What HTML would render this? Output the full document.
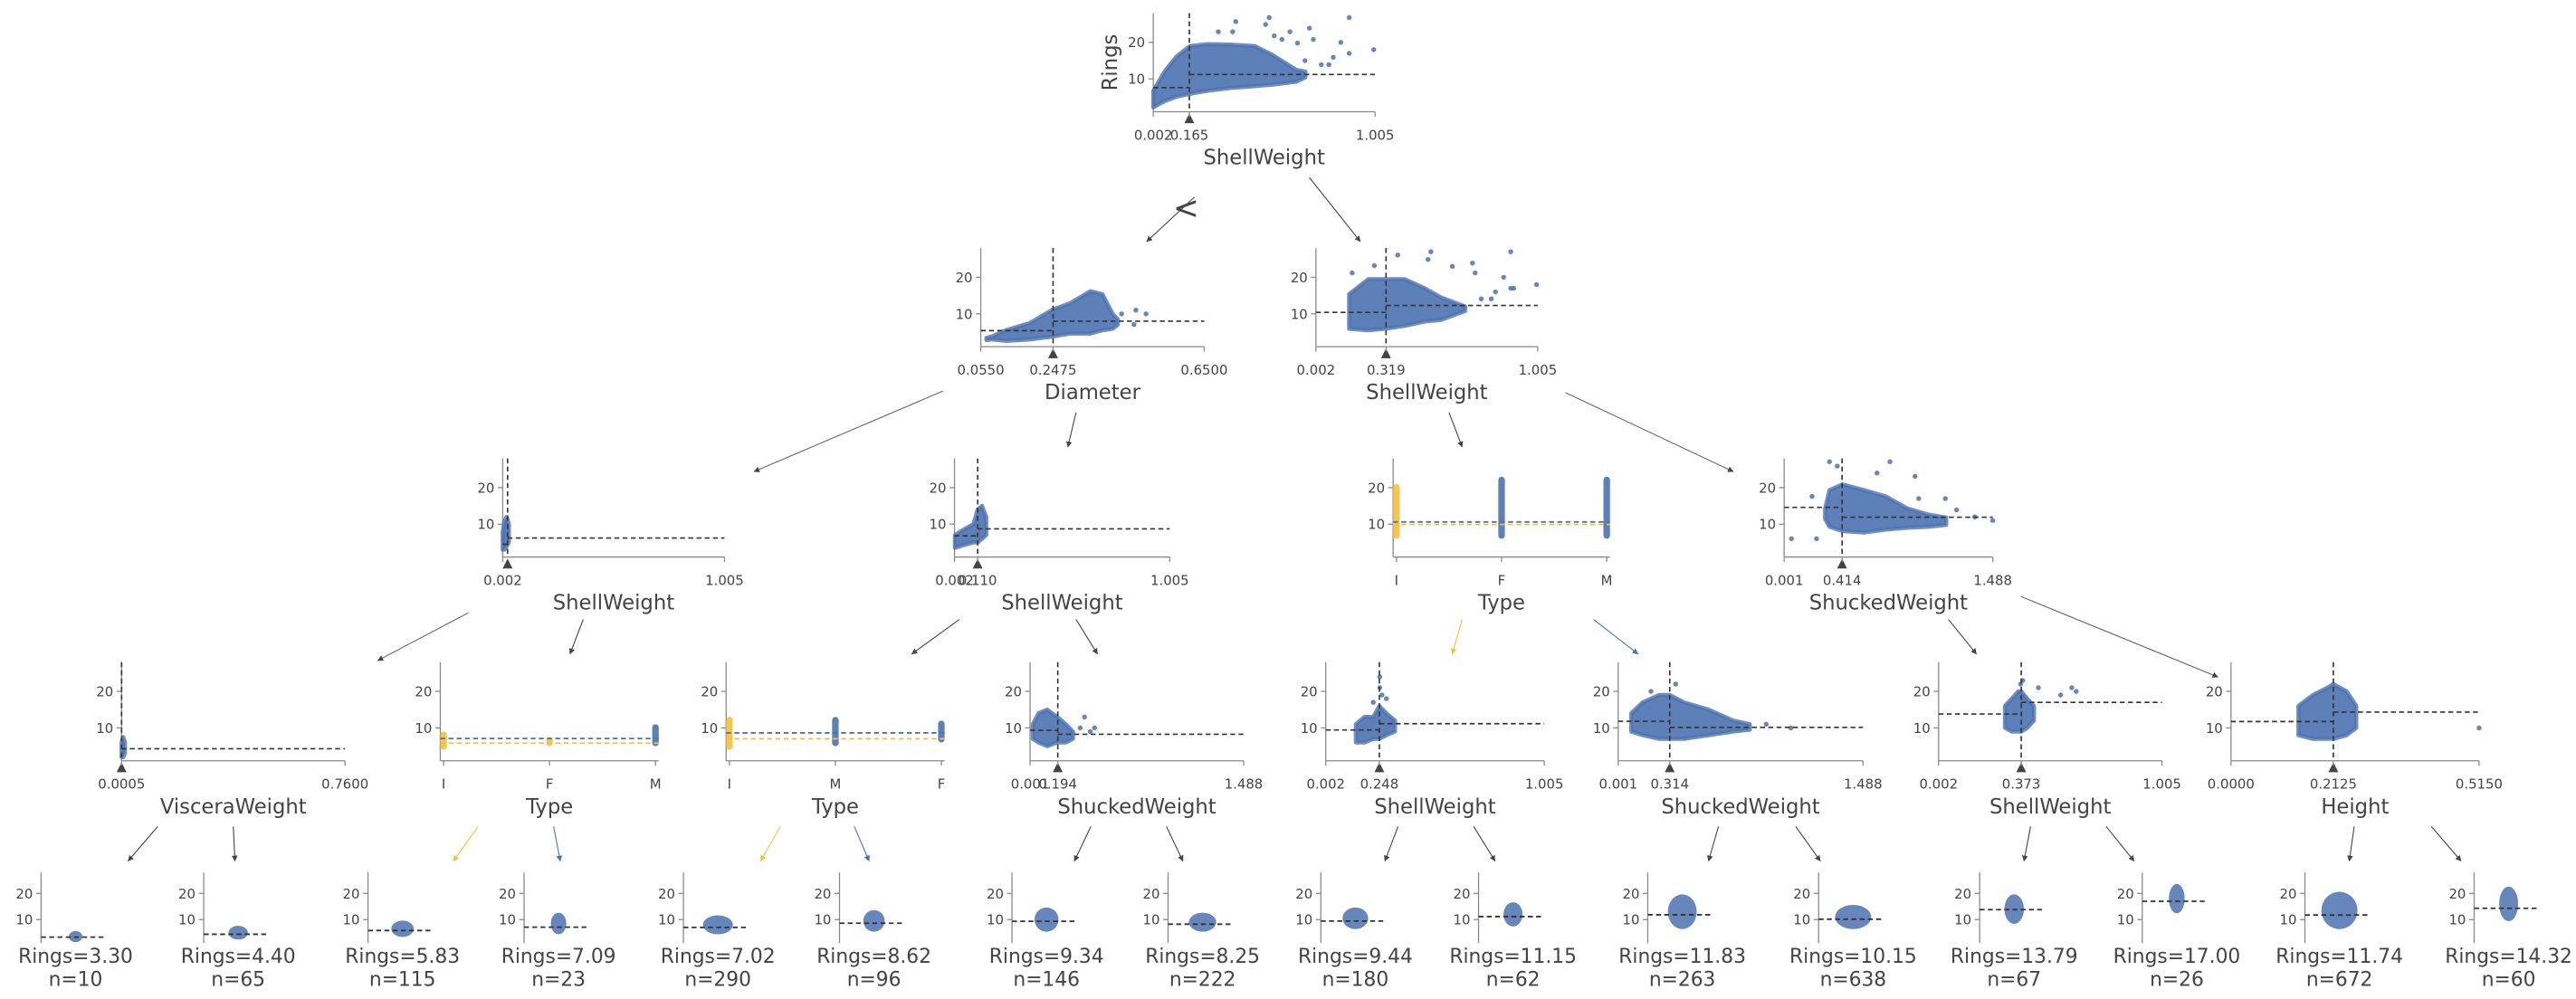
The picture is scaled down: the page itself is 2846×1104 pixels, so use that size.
<!DOCTYPE html>
<html><head><meta charset="utf-8"><style>
html,body{margin:0;padding:0;background:#fff;}
svg{display:block;font-family:"DejaVu Sans","Liberation Sans",sans-serif;}
</style></head><body>
<svg id="chart" xmlns="http://www.w3.org/2000/svg" width="2846" height="1104" viewBox="0 0 1568 608" preserveAspectRatio="none">
<defs>
<marker id="ah" viewBox="0 0 10 10" refX="9" refY="5" markerWidth="6" markerHeight="6" orient="auto"><path d="M0,0 L10,5 L0,10 z" fill="#444"/></marker>
<marker id="ahy" viewBox="0 0 10 10" refX="9" refY="5" markerWidth="6" markerHeight="6" orient="auto"><path d="M0,0 L10,5 L0,10 z" fill="#f4c13b"/></marker>
<marker id="ahb" viewBox="0 0 10 10" refX="9" refY="5" markerWidth="6" markerHeight="6" orient="auto"><path d="M0,0 L10,5 L0,10 z" fill="#4c72b0"/></marker>
</defs>
<g id="edges" stroke-width="0.6" fill="none">
<line x1="727" y1="120" x2="698" y2="147" stroke="#444" marker-end="url(#ah)"/>
<text x="722" y="133" font-size="19" fill="#444" stroke="none" text-anchor="middle">&lt;</text>
<line x1="797" y1="108" x2="828" y2="147" stroke="#444" marker-end="url(#ah)"/>
<line x1="574" y1="238" x2="459" y2="287" stroke="#666" marker-end="url(#ah)"/>
<line x1="655" y1="251" x2="650" y2="272" stroke="#444" marker-end="url(#ah)"/>
<line x1="882" y1="251" x2="890" y2="272" stroke="#444" marker-end="url(#ah)"/>
<line x1="953" y1="239" x2="1055" y2="287" stroke="#666" marker-end="url(#ah)"/>
<line x1="285" y1="373" x2="230" y2="402" stroke="#666" marker-end="url(#ah)"/>
<line x1="355" y1="377" x2="347" y2="398" stroke="#444" marker-end="url(#ah)"/>
<line x1="584" y1="377" x2="555" y2="398" stroke="#444" marker-end="url(#ah)"/>
<line x1="655" y1="377" x2="668" y2="398" stroke="#444" marker-end="url(#ah)"/>
<line x1="890" y1="377" x2="884" y2="398" stroke="#f4c13b" marker-end="url(#ahy)"/>
<line x1="970" y1="377" x2="997" y2="398" stroke="#4c72b0" marker-end="url(#ahb)"/>
<line x1="1186" y1="377" x2="1203" y2="398" stroke="#444" marker-end="url(#ah)"/>
<line x1="1230" y1="363" x2="1350" y2="412" stroke="#666" marker-end="url(#ah)"/>
<line x1="96" y1="503" x2="78" y2="524" stroke="#444" marker-end="url(#ah)"/>
<line x1="142" y1="503" x2="143" y2="524" stroke="#444" marker-end="url(#ah)"/>
<line x1="291" y1="503" x2="276" y2="524" stroke="#f4c13b" marker-end="url(#ahy)"/>
<line x1="337" y1="503" x2="341" y2="524" stroke="#4c72b0" marker-end="url(#ahb)"/>
<line x1="475" y1="503" x2="463" y2="524" stroke="#f4c13b" marker-end="url(#ahy)"/>
<line x1="520" y1="503" x2="529" y2="524" stroke="#4c72b0" marker-end="url(#ahb)"/>
<line x1="664" y1="503" x2="654" y2="524" stroke="#444" marker-end="url(#ah)"/>
<line x1="710" y1="503" x2="720" y2="524" stroke="#444" marker-end="url(#ah)"/>
<line x1="851" y1="503" x2="843" y2="524" stroke="#444" marker-end="url(#ah)"/>
<line x1="897" y1="503" x2="910" y2="524" stroke="#444" marker-end="url(#ah)"/>
<line x1="1046" y1="503" x2="1040" y2="524" stroke="#444" marker-end="url(#ah)"/>
<line x1="1093" y1="503" x2="1108" y2="524" stroke="#444" marker-end="url(#ah)"/>
<line x1="1236" y1="503" x2="1232" y2="524" stroke="#444" marker-end="url(#ah)"/>
<line x1="1282" y1="503" x2="1299" y2="524" stroke="#444" marker-end="url(#ah)"/>
<line x1="1433" y1="503" x2="1430" y2="524" stroke="#444" marker-end="url(#ah)"/>
<line x1="1480" y1="503" x2="1498" y2="524" stroke="#444" marker-end="url(#ah)"/>
</g>
<g id="nodes"></g>
</svg>
<script>
// ---------- data ----------
const rootBinX=[0.002,0.053,0.107,0.168,0.242,0.35,0.46,0.54,0.647,0.69];
const rootLo=[2.2,3.9,5.1,5.9,6.7,7.5,8,8.4,9.2,10.4];
const rootHi=[6.7,12,16.1,19,19.5,19.4,19,16.6,12.5,12];
const rootOutX=[0.375,0.526,0.51,0.708,0.726,0.85,0.888,0.888,0.999,0.816,0.762,0.796,0.688,0.62,0.549,0.584,0.654,0.296,0.361];
const rootOutY=[25.7,26.8,24.9,23.9,20.8,20,26.8,17,18,15.9,13.9,13.9,15,22.9,21.8,20.8,19.8,22.9,22.9];
const rootMeans=[7.6,11.2];
const rootTicks=[0.002,0.165,1.005];
const rootTickLabels=['0.002','0.165','1.005'];

const n1aBinX=[0.07,0.084,0.122,0.186,0.247,0.293,0.347,0.379,0.406,0.42];
const n1aLo=[2.8,3,2.6,3,3.8,4.6,4.6,5.5,5.9,7];
const n1aHi=[3.4,3.8,5.5,7.5,11.2,12.9,16.2,15.4,10,8.5];
const n1aOutX=[0.468,0.495,0.463,0.43];
const n1aOutY=[11,10,7.1,10];
const n1aMeans=[5.4,8.0];
const n1aTicks=[0.055,0.2475,0.65];
const n1aTickLabels=['0.0550','0.2475','0.6500'];

const n1bBinX=[0.152,0.239,0.312,0.403,0.494,0.567,0.677];
const n1bLo=[5.9,5.5,5.9,6.7,7.9,8.3,10.8];
const n1bHi=[15.4,19.5,19.5,19.5,17,14.5,12];
const n1bOutX=[0.372,0.522,0.883,0.509,0.71,0.619,0.851,0.883,0.896,1.0,0.814,0.75,0.795,0.722,0.166,0.266];
const n1bOutY=[26.1,27,27,24.9,23.9,23,20,17,17,18,16,14.1,14.1,21.2,21.2,23.2];
const n1bMeans=[10.4,12.3];
const n1bTicks=[0.002,0.319,1.005];
const n1bTickLabels=['0.002','0.319','1.005'];

const n2aBinX=[0.002,0.01,0.02,0.03];
const n2aLo=[3,3,4,5];
const n2aHi=[8,11,12,10];
const n2aOutX=[];
const n2aOutY=[];
const n2aMeans=[4.5,6.2];
const n2aTicks=[0.002,1.005];
const n2aTickLabels=['0.002','1.005'];

const n2bBinX=[0.004,0.03,0.06,0.09,0.11,0.13,0.15];
const n2bLo=[3.5,4,4.5,5,5,6,7];
const n2bHi=[7,8,9,10,14,15,12];
const n2bOutX=[];
const n2bOutY=[];
const n2bMeans=[6.8,8.7];
const n2bTicks=[0.002,0.110,1.005];
const n2bTickLabels=['0.002','0.110','1.005'];

const n2dBinX=[0.293,0.324,0.417,0.571,0.725,0.879,1.033,1.156];
const n2dLo=[11.4,9.3,8.1,7.7,8.5,9,9.3,9.8];
const n2dHi=[14.3,19.3,20.9,19.3,17.6,14.3,12.6,11.8];
const n2dOutX=[0.053,0.232,0.324,0.755,0.663,0.934,1.15,1.36,1.488,1.23,0.2,0.38,0.96];
const n2dOutY=[6,6,27.1,27.1,24,23.1,17,12,11,13.9,17.6,25.9,17];
const n2dMeans=[14.6,11.9];
const n2dTicks=[0.001,0.414,1.488];
const n2dTickLabels=['0.001','0.414','1.488'];

const n31BinX=[0.0005,0.006,0.012];
const n31Lo=[2,2,3];
const n31Hi=[6,7.5,6];
const n31OutX=[];
const n31OutY=[];
const n31Means=[null,4.3];
const n31Ticks=[0.0005,0.76];
const n31TickLabels=['0.0005','0.7600'];

const n34BinX=[0.02,0.06,0.12,0.19,0.25,0.3];
const n34Lo=[7,6,5,6,6,7];
const n34Hi=[11,14,15,13,11,9];
const n34OutX=[0.35,0.42,0.45,0.38];
const n34OutY=[10,9,10,13];
const n34Means=[9.34,8.25];
const n34Ticks=[0.001,0.194,1.488];
const n34TickLabels=['0.001','0.194','1.488'];

const n35BinX=[0.14,0.18,0.22,0.248,0.28,0.32];
const n35Lo=[6,6,7,7,8,9];
const n35Hi=[11,13,13,16,14,12];
const n35OutX=[0.25,0.25,0.26,0.28,0.22];
const n35OutY=[24,21,19,18,17];
const n35Means=[9.44,11.15];
const n35Ticks=[0.002,0.248,1.005];
const n35TickLabels=['0.002','0.248','1.005'];

const n36BinX=[0.08,0.15,0.25,0.314,0.4,0.55,0.7,0.8];
const n36Lo=[9,8,7,7,7,8,9,9.5];
const n36Hi=[14,17,19,19,17,15,12,11];
const n36OutX=[0.2,0.35,0.9,1.05];
const n36OutY=[20,22,11,10];
const n36Means=[11.83,10.15];
const n36Ticks=[0.001,0.314,1.488];
const n36TickLabels=['0.001','0.314','1.488'];

const n37BinX=[0.3,0.33,0.36,0.373,0.4,0.43];
const n37Lo=[10,9,9,9,10,12];
const n37Hi=[16,18,20,20,18,16];
const n37OutX=[0.38,0.37,0.45,0.55,0.6,0.62];
const n37OutY=[23,22,21,19,21,20];
const n37Means=[13.79,17.0];
const n37Ticks=[0.002,0.373,1.005];
const n37TickLabels=['0.002','0.373','1.005'];

const n38BinX=[0.14,0.17,0.2,0.2125,0.24,0.26];
const n38Lo=[8,7,7,7,8,10];
const n38Hi=[16,19,21,22,20,16];
const n38OutX=[0.515];
const n38OutY=[10];
const n38Means=[11.74,14.32];
const n38Ticks=[0,0.2125,0.515];
const n38TickLabels=['0.0000','0.2125','0.5150'];

const n2cCats=['I','F','M'];
const n2cLo=[6,6,6];
const n2cHi=[21,23,23];
const n2cColorIdx=[0,1,1];
const n2cMeans=[9.9,10.6];
const n32Cats=['I','F','M'];
const n32Lo=[4,5,5];
const n32Hi=[9,7.5,11];
const n32ColorIdx=[0,0,1];
const n32Means=[5.83,7.09];
const n33Cats=['I','M','F'];
const n33Lo=[4,5,6];
const n33Hi=[13,13,12];
const n33ColorIdx=[0,1,1];
const n33Means=[7.02,8.62];

const leafMeans=[3.30,4.40,5.83,7.09,7.02,8.62,9.34,8.25,9.44,11.15,11.83,10.15,13.79,17.00,11.74,14.32];
const leafN=[10,65,115,23,290,96,146,222,180,62,263,638,67,26,672,60];
const leafLo=[2,3,4,5,5,6,6,6,7,8,7,7,9,13,7,10];
const leafHi=[5,7,9,12,11,13,14,12,14,16,19,15,19,23,20,22];

// ---------- drawing ----------
const NS='http://www.w3.org/2000/svg';
const BLUE='#4c72b0', YEL='#f4c13b', TXT='#444', SPINE='#888';
const TF=8.2;
const root=document.getElementById('nodes');
function mk(tag,attrs,parent){const e=document.createElementNS(NS,tag);for(const k in attrs)e.setAttribute(k,attrs[k]);parent.appendChild(e);return e;}
function yScale(yb,h){return v=>yb-(v-1)*h/27;}

function axesCommon(g,x0,x1,yb,h,sy,prefix){
  const sp=mk('line',{x1:x0,y1:yb-h,x2:x0,y2:yb,stroke:SPINE,'stroke-width':0.7},g);
  
  
  const bx=mk('line',{x1:x0,y1:yb,x2:x1,y2:yb,stroke:SPINE,'stroke-width':0.7},g);
  
  
  [10,20].forEach(v=>{
    const t=mk('line',{x1:x0-3,y1:sy(v),x2:x0,y2:sy(v),stroke:SPINE,'stroke-width':0.7},g);
    
    
    const l=mk('text',{x:x0-5,y:sy(v)+3,'font-size':TF,fill:TXT,'text-anchor':'end'},g);
    l.textContent=v;
    
    
  });
}

function scatterNode(prefix,x0,x1,yb,dom,split,binX,lo,hi,outX,outY,means,ticks,tickLabels,feature,ylabel){
  const g=mk('g',{},root);
  
  
  const h=60, sy=yScale(yb,h);
  const sx=v=>x0+(v-dom[0])/(dom[1]-dom[0])*(x1-x0);
  axesCommon(g,x0,x1,yb,h,sy,prefix);
  let pts=[];
  for(let i=0;i<binX.length;i++)pts.push(sx(binX[i])+','+sy(hi[i]));
  for(let i=binX.length-1;i>=0;i--)pts.push(sx(binX[i])+','+sy(lo[i]));
  const poly=mk('polygon',{points:pts.join(' '),fill:BLUE,'fill-opacity':0.9,stroke:BLUE,'stroke-width':2.5,'stroke-linejoin':'round','stroke-opacity':0.8},g);
  
  
  for(let i=0;i<outX.length;i++){
    const c=mk('circle',{cx:sx(outX[i]),cy:sy(outY[i]),r:1.5,fill:BLUE,'fill-opacity':0.85},g);
    
    
  }
  const sl=mk('line',{x1:sx(split),y1:yb-h,x2:sx(split),y2:yb,stroke:'#333','stroke-width':0.9,'stroke-dasharray':'3,2'},g);
  
  
  if(means[0]!==null){
    const m=mk('line',{x1:x0,y1:sy(means[0]),x2:sx(split),y2:sy(means[0]),stroke:'#333','stroke-width':0.9,'stroke-dasharray':'3,2'},g);
    
    
  }
  const m2=mk('line',{x1:sx(split),y1:sy(means[1]),x2:x1,y2:sy(means[1]),stroke:'#333','stroke-width':0.9,'stroke-dasharray':'3,2'},g);
  
  
  const s=sx(split);
  const tri=mk('polygon',{points:`${s-3},${yb+7} ${s+3},${yb+7} ${s},${yb+1}`,fill:TXT},g);
  
  
  for(let i=0;i<ticks.length;i++){
    const tx=sx(ticks[i]);
    const tk=mk('line',{x1:tx,y1:yb,x2:tx,y2:yb+3,stroke:SPINE,'stroke-width':0.7},g);
    
    
    const tl=mk('text',{x:tx,y:yb+17,'font-size':TF,fill:TXT,'text-anchor':'middle'},g);
    tl.textContent=tickLabels[i];
    
    
  }
  const fl=mk('text',{x:(x0+x1)/2,y:yb+32,'font-size':12.5,fill:TXT,'text-anchor':'middle'},g);
  fl.textContent=feature;
  
  
  if(ylabel){
    const yl=mk('text',{x:0,y:0,'font-size':12.5,fill:TXT,'text-anchor':'middle',transform:`translate(${x0-22},${yb-h/2}) rotate(-90)`},g);
    yl.textContent='Rings';
    
    
  }
}

function catNode(prefix,x0,x1,yb,cats,lo,hi,colIdx,means,feature){
  const g=mk('g',{},root);
  
  
  const h=60, sy=yScale(yb,h);
  const cx=i=>x0+2+i*(x1-x0-4)/(cats.length-1);
  axesCommon(g,x0,x1,yb,h,sy,prefix);
  const cols=[YEL,BLUE];
  for(let i=0;i<cats.length;i++){
    const r=mk('rect',{x:cx(i)-2,y:sy(hi[i]),width:4,height:sy(lo[i])-sy(hi[i]),rx:2,fill:cols[colIdx[i]],'fill-opacity':0.9},g);
    
    
    const tk=mk('line',{x1:cx(i),y1:yb,x2:cx(i),y2:yb+3,stroke:SPINE,'stroke-width':0.7},g);
    
    
    const tl=mk('text',{x:cx(i),y:yb+17,'font-size':TF,fill:TXT,'text-anchor':'middle'},g);
    tl.textContent=cats[i];
    
    
  }
  const my=mk('line',{x1:x0,y1:sy(means[0]),x2:x1,y2:sy(means[0]),stroke:YEL,'stroke-width':1,'stroke-dasharray':'3,2'},g);
  
  
  const mb=mk('line',{x1:x0,y1:sy(means[1]),x2:x1,y2:sy(means[1]),stroke:BLUE,'stroke-width':1,'stroke-dasharray':'3,2'},g);
  
  
  const fl=mk('text',{x:(x0+x1)/2,y:yb+32,'font-size':12.5,fill:TXT,'text-anchor':'middle'},g);
  fl.textContent=feature;
  
  
}

scatterNode('root',702,837,68,[0.002,1.005],0.165,rootBinX,rootLo,rootHi,rootOutX,rootOutY,rootMeans,rootTicks,rootTickLabels,'ShellWeight',true);
scatterNode('node-1a',597,733,211,[0.055,0.65],0.2475,n1aBinX,n1aLo,n1aHi,n1aOutX,n1aOutY,n1aMeans,n1aTicks,n1aTickLabels,'Diameter',false);
scatterNode('node-1b',801,936,211,[0.002,1.005],0.319,n1bBinX,n1bLo,n1bHi,n1bOutX,n1bOutY,n1bMeans,n1bTicks,n1bTickLabels,'ShellWeight',false);
scatterNode('node-2a',306,441,339,[0.002,1.005],0.024,n2aBinX,n2aLo,n2aHi,n2aOutX,n2aOutY,n2aMeans,n2aTicks,n2aTickLabels,'ShellWeight',false);
scatterNode('node-2b',581,712,339,[0.002,1.005],0.110,n2bBinX,n2bLo,n2bHi,n2bOutX,n2bOutY,n2bMeans,n2bTicks,n2bTickLabels,'ShellWeight',false);
catNode('node-2c',848,980,339,n2cCats,n2cLo,n2cHi,n2cColorIdx,n2cMeans,'Type');
scatterNode('node-2d',1086,1213,339,[0.001,1.488],0.414,n2dBinX,n2dLo,n2dHi,n2dOutX,n2dOutY,n2dMeans,n2dTicks,n2dTickLabels,'ShuckedWeight',false);
scatterNode('node-3-1',74,210,463,[0.0005,0.76],0.0005,n31BinX,n31Lo,n31Hi,n31OutX,n31OutY,n31Means,n31Ticks,n31TickLabels,'VisceraWeight',false);
catNode('node-3-2',268,401,463,n32Cats,n32Lo,n32Hi,n32ColorIdx,n32Means,'Type');
catNode('node-3-3',442,575,463,n33Cats,n33Lo,n33Hi,n33ColorIdx,n33Means,'Type');
scatterNode('node-3-4',627,757,463,[0.001,1.488],0.194,n34BinX,n34Lo,n34Hi,n34OutX,n34OutY,n34Means,n34Ticks,n34TickLabels,'ShuckedWeight',false);
scatterNode('node-3-5',807,940,463,[0.002,1.005],0.248,n35BinX,n35Lo,n35Hi,n35OutX,n35OutY,n35Means,n35Ticks,n35TickLabels,'ShellWeight',false);
scatterNode('node-3-6',985,1134,463,[0.001,1.488],0.314,n36BinX,n36Lo,n36Hi,n36OutX,n36OutY,n36Means,n36Ticks,n36TickLabels,'ShuckedWeight',false);
scatterNode('node-3-7',1180,1316,463,[0.002,1.005],0.373,n37BinX,n37Lo,n37Hi,n37OutX,n37OutY,n37Means,n37Ticks,n37TickLabels,'ShellWeight',false);
scatterNode('node-3-8',1358,1509,463,[0,0.515],0.2125,n38BinX,n38Lo,n38Hi,n38OutX,n38OutY,n38Means,n38Ticks,n38TickLabels,'Height',false);

const leafCenters=[46,145,245,340,437,532,637,732,825,921,1024,1128,1226,1325,1424,1527];
for(let i=0;i<leafMeans.length;i++){
  const c=leafCenters[i], x0=c-21, yb=574, h=43, sy=yScale(yb,h);
  const g=mk('g',{},root);
  
  
  const sp=mk('line',{x1:x0,y1:yb-h,x2:x0,y2:yb,stroke:SPINE,'stroke-width':0.7},g);
  
  
  [10,20].forEach(v=>{
    const t=mk('line',{x1:x0-3,y1:sy(v),x2:x0,y2:sy(v),stroke:SPINE,'stroke-width':0.7},g);
    
    
    const l=mk('text',{x:x0-5,y:sy(v)+3,'font-size':TF,fill:TXT,'text-anchor':'end'},g);
    l.textContent=v;
    
    
  });
  const rx=Math.min(11,3+Math.sqrt(leafN[i])/2.8);
  const e=mk('ellipse',{cx:c,cy:(sy(leafLo[i])+sy(leafHi[i]))/2,rx:rx,ry:(sy(leafLo[i])-sy(leafHi[i]))/2+1,fill:BLUE,'fill-opacity':0.85},g);
  
  
  const m=mk('line',{x1:x0,y1:sy(leafMeans[i]),x2:x0+40,y2:sy(leafMeans[i]),stroke:'#333','stroke-width':1,'stroke-dasharray':'3,2'},g);
  
  
  const t1=mk('text',{x:c,y:586,'font-size':12,fill:TXT,'text-anchor':'middle'},g);
  t1.textContent='Rings='+leafMeans[i].toFixed(2);
  
  
  const t2=mk('text',{x:c,y:600,'font-size':12,fill:TXT,'text-anchor':'middle'},g);
  t2.textContent='n='+leafN[i];
  
  
}
</script>
</body></html>
